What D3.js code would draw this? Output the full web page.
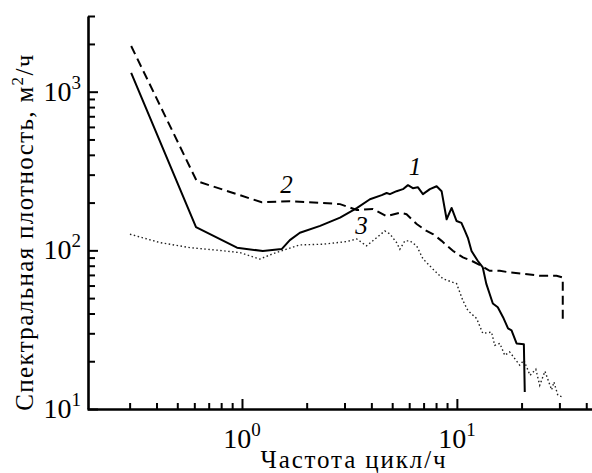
<!DOCTYPE html>
<html>
<head>
<meta charset="utf-8">
<script src="https://cdn.jsdelivr.net/npm/d3@7"></script>
</head>
<body style="margin:0;background:#fff">
<svg id="chart" width="592" height="473" font-family="Liberation Serif"></svg>
<script>
// curve 1 (solid)
var freq1 = [0.305, 0.611, 0.948, 1.25, 1.53, 1.67, 1.86, 2.31, 2.86, 3.42, 3.94, 4.47, 4.71, 4.88, 5.24, 5.61, 5.92, 6.24, 6.58, 6.95, 7.49, 8.05, 8.49, 8.96, 9.45, 9.97, 10.5, 10.9, 11.25, 11.7, 12.5, 13.2, 13.7, 14.2, 14.7, 15.5, 16.4, 17.3, 17.96, 18.96, 20.5, 20.7];
var dens1 = [1316, 140, 104, 99, 101.8, 116, 129, 142.6, 160.7, 184.5, 210, 223, 230, 226, 236, 243, 257.6, 246.6, 250, 226, 243, 253.6, 236, 157, 185, 153, 149, 132.5, 120, 99, 86, 78, 61.7, 53.3, 46.2, 43.8, 37.9, 32.2, 31.3, 25.9, 25.6, 12.8];

// curve 2 (dashed)
var freq2 = [0.305, 0.616, 1.235, 1.67, 2.31, 2.86, 3.42, 4.07, 4.71, 5.43, 5.83, 6.50, 7.23, 7.73, 8.49, 9.58, 10.67, 11.7, 13.0, 14.2, 15.85, 17.6, 20.3, 24.3, 29.1, 31.1, 31.1];
var dens2 = [1941, 273, 201, 204, 199.5, 195.6, 179.5, 182, 164, 172.6, 169, 146.6, 132.5, 126.8, 114.8, 99.4, 90.2, 86, 80, 74.3, 74.3, 72.6, 71.3, 69.2, 69.2, 67.4, 36.1];

// curve 3 (dotted)
var freq3 = [0.301, 0.415, 0.573, 0.763, 0.979, 1.21, 1.39, 1.61, 1.86, 2.38, 3.07, 3.42, 3.80, 4.23, 4.62, 4.88, 5.24, 5.43, 5.73, 6.04, 6.50, 6.95, 7.73, 8.61, 9.97, 10.67, 11.25, 12.35, 13.2, 14.5, 15.0, 15.85, 16.7, 17.6, 19.6, 20.5, 21.9, 23.3, 24.3, 25.7, 27.6, 28.3, 29.5, 31.1];
var dens3 = [126.4, 112, 104, 100.3, 96.8, 88.1, 95.1, 101.7, 108.2, 109.3, 113.6, 118, 106.7, 120.2, 132.5, 126.8, 112, 101.7, 114.8, 114.8, 106.7, 88.5, 76.3, 66.2, 61.7, 48.2, 41.8, 37.2, 30.0, 30.5, 25.2, 25.9, 21.8, 22.9, 18.9, 20.3, 16.3, 17.8, 14.1, 17.3, 13.2, 14.8, 12.2, 11.9];

// curve numbers
var curveNames = ["1", "2", "3"];
var nameFreq = [6.38, 1.61, 3.6];
var nameDens = [297, 229, 127];

// ticks
var xMajor = [1, 10];
var xTickExp = ["0", "1"];
var xMinor = [0.3, 0.4, 0.5, 0.6, 0.7, 0.8, 0.9, 2, 3, 4, 5, 6, 7, 8, 9, 20, 30, 40];
var yMajor = [10, 100, 1000];
var yTickExp = ["1", "2", "3"];
var yMinor = [20, 30, 40, 50, 60, 70, 80, 90, 200, 300, 400, 500, 600, 700, 800, 900, 2000, 3000];

var xTitle = "Частота цикл/ч";
var yTitleParts = ["Спектральная плотность, м", "2", "/ч"];

var FONT = "Liberation Serif";

var svg = d3.select("#chart");

var x = d3.scaleLog().domain([0.19, 43]).range([87, 593]);
var y = d3.scaleLog().domain([10, 3000]).range([409, 16]);

// serif text helper
function addText(parent){
  return parent.append("text")
    .attr("font-family", FONT)
    .style("font-family", FONT)
    .attr("fill", "#000");
}

function styleAxis(g){
  g.attr("font-family", FONT);
  g.select(".domain").attr("stroke", "#000").attr("stroke-width", 2.6);
  g.selectAll(".tick line").attr("stroke", "#000").attr("stroke-width", 2);
  g.selectAll(".tick text").remove();
}

/* tick labels 10^n */
xMajor.forEach(function(v, i){
  var t = addText(svg)
    .attr("x", x(v))
    .attr("y", 448)
    .attr("text-anchor", "middle")
    .attr("font-size", 28)
    .text("10");
  t.append("tspan").attr("dy", -12).attr("font-size", 19).text(xTickExp[i]);
});
yMajor.forEach(function(v, i){
  var t = addText(svg)
    .attr("x", 81)
    .attr("y", y(v) + 9)
    .attr("text-anchor", "end")
    .attr("font-size", 28)
    .text("10");
  t.append("tspan").attr("dy", -12).attr("font-size", 19).text(yTickExp[i]);
});

/* axis titles, spaced out to the width they take in the picture */
function spreadTo(t, target){
  var n = t.text().length;
  var w = t.node().getComputedTextLength();
  t.attr("letter-spacing", ((target - w) / (n - 1)));
}

var xt = addText(svg)
  .attr("x", 354)
  .attr("y", 468)
  .attr("text-anchor", "middle")
  .attr("font-size", 25)
  .text(xTitle);
spreadTo(xt, 185);

var yt = addText(svg)
  .attr("transform", "translate(33,232) rotate(-90)")
  .attr("text-anchor", "middle")
  .attr("font-size", 25)
  .text(yTitleParts[0]);
yt.append("tspan").attr("dy", -10).attr("font-size", 17).text(yTitleParts[1]);
yt.append("tspan").attr("dy", 10).text(yTitleParts[2]);
spreadTo(yt, 356);

/* ticks: all pointing inwards */
svg.append("g")
  .attr("transform", "translate(0,409)")
  .call(d3.axisBottom(x).tickValues(xMinor).tickSize(-6).tickSizeOuter(0).tickFormat(""))
  .call(styleAxis);
svg.append("g")
  .attr("transform", "translate(0,409)")
  .call(d3.axisBottom(x).tickValues(xMajor).tickSize(-10).tickSizeOuter(0).tickFormat(""))
  .call(styleAxis)
  .select(".domain").remove();

svg.append("g")
  .attr("transform", "translate(88,0)")
  .call(d3.axisLeft(y).tickValues(yMinor).tickSize(-7).tickSizeOuter(0).tickFormat(""))
  .call(styleAxis);
svg.append("g")
  .attr("transform", "translate(88,0)")
  .call(d3.axisLeft(y).tickValues(yMajor).tickSize(-10).tickSizeOuter(0).tickFormat(""))
  .call(styleAxis)
  .select(".domain").remove();

/* curves */
var line = d3.line()
  .x(function(d){ return x(d[0]); })
  .y(function(d){ return y(d[1]); });

svg.append("path")
  .datum(d3.zip(freq3, dens3))
  .attr("d", line)
  .attr("fill", "none")
  .attr("stroke", "#222")
  .attr("stroke-width", 1.4)
  .attr("stroke-dasharray", "1.5,2.5");

svg.append("path")
  .datum(d3.zip(freq2, dens2))
  .attr("d", line)
  .attr("fill", "none")
  .attr("stroke", "#000")
  .attr("stroke-width", 2)
  .attr("stroke-dasharray", "9,5");

svg.append("path")
  .datum(d3.zip(freq1, dens1))
  .attr("d", line)
  .attr("fill", "none")
  .attr("stroke", "#000")
  .attr("stroke-width", 2)
  .attr("stroke-linejoin", "round");

/* curve numbers */
curveNames.forEach(function(name, i){
  addText(svg)
    .attr("x", x(nameFreq[i]))
    .attr("y", y(nameDens[i]))
    .attr("text-anchor", "middle")
    .attr("font-size", 25)
    .attr("font-style", "italic")
    .text(name);
});
</script>
</body>
</html>
